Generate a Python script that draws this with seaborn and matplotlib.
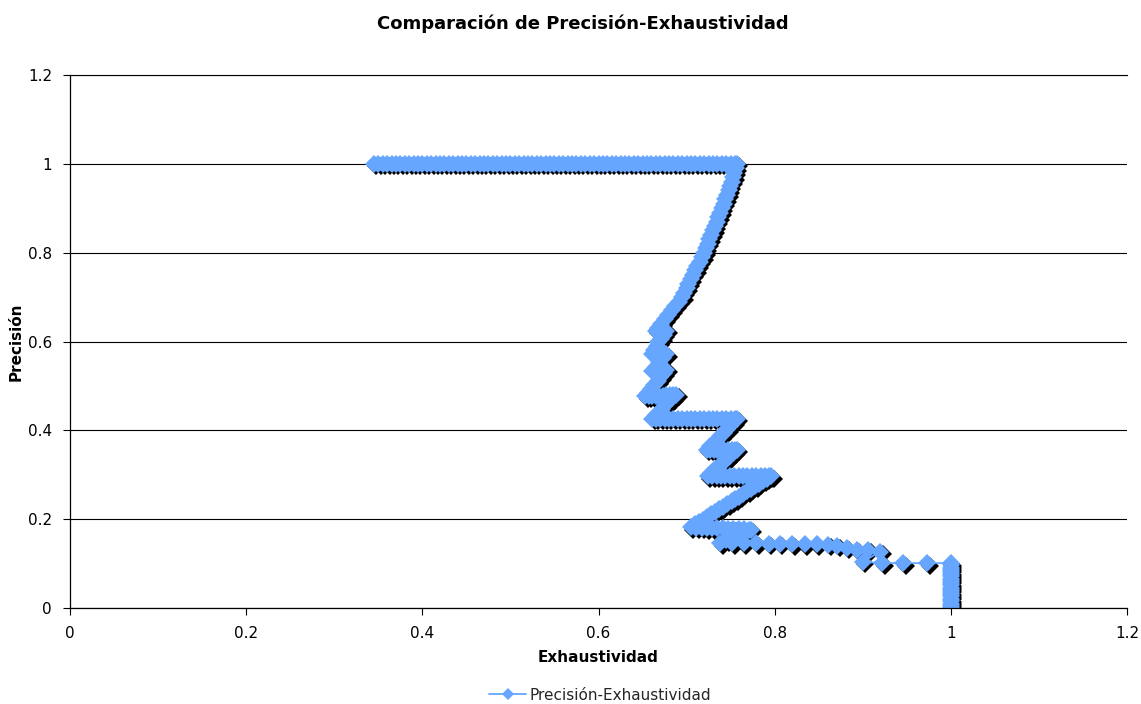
import matplotlib
matplotlib.use("Agg")
import matplotlib.pyplot as plt
import matplotlib.transforms as mtransforms
from matplotlib.lines import Line2D
import pandas as pd
import seaborn as sns

# Precision-recall points, in the order the curve was traced.
# Flat run at precision 1.0
recall_top = [0.345, 0.350, 0.355, 0.360, 0.365, 0.370, 0.375, 0.380, 0.385, 0.390,
              0.395, 0.400, 0.405, 0.410, 0.415, 0.420, 0.425, 0.430, 0.435, 0.440,
              0.445, 0.450, 0.455, 0.460, 0.465, 0.470, 0.475, 0.480, 0.485, 0.490,
              0.495, 0.500, 0.505, 0.510, 0.515, 0.520, 0.525, 0.530, 0.535, 0.540,
              0.545, 0.550, 0.555, 0.560, 0.565, 0.570, 0.575, 0.580, 0.585, 0.590,
              0.595, 0.600, 0.605, 0.610, 0.615, 0.620, 0.625, 0.630, 0.635, 0.640,
              0.645, 0.650, 0.655, 0.660, 0.665, 0.670, 0.675, 0.680, 0.685, 0.690,
              0.695, 0.700, 0.705, 0.710, 0.715, 0.720, 0.725, 0.730, 0.735, 0.740,
              0.745, 0.750, 0.755, 0.757]
precision_top = [1.0] * len(recall_top)

# Curved descent from precision 1.0 to about 0.62
recall_curve = [0.756, 0.754, 0.753, 0.751, 0.749, 0.748, 0.746, 0.744, 0.742, 0.740,
                0.738, 0.736, 0.734, 0.732, 0.730, 0.728, 0.726, 0.724, 0.722, 0.720,
                0.718, 0.715, 0.712, 0.710, 0.707, 0.705, 0.702, 0.700, 0.697, 0.695,
                0.691, 0.687, 0.683, 0.679, 0.675, 0.671, 0.667, 0.665]
precision_curve = [0.99, 0.98, 0.97, 0.96, 0.95, 0.94, 0.93, 0.92, 0.91, 0.90,
                   0.89, 0.88, 0.87, 0.86, 0.85, 0.84, 0.83, 0.82, 0.81, 0.80,
                   0.79, 0.78, 0.77, 0.76, 0.75, 0.74, 0.73, 0.72, 0.71, 0.70,
                   0.69, 0.68, 0.67, 0.66, 0.65, 0.64, 0.63, 0.624]

# Zigzag between 0.62 and 0.42
recall_zig = [0.669, 0.673, 0.677,
              0.674, 0.671, 0.668, 0.666, 0.663, 0.661,
              0.665, 0.669, 0.673, 0.677,
              0.673, 0.669, 0.665, 0.661,
              0.665, 0.669, 0.673, 0.677,
              0.674, 0.670, 0.667, 0.663, 0.660, 0.656, 0.653,
              0.657, 0.661, 0.665, 0.669, 0.673, 0.677, 0.681, 0.685, 0.688,
              0.684, 0.680, 0.676, 0.672, 0.669, 0.665, 0.661]
precision_zig = [0.624, 0.624, 0.624,
                 0.615, 0.606, 0.598, 0.589, 0.580, 0.572,
                 0.572, 0.572, 0.571, 0.571,
                 0.563, 0.553, 0.543, 0.534,
                 0.534, 0.535, 0.535, 0.536,
                 0.528, 0.519, 0.511, 0.502, 0.494, 0.485, 0.477,
                 0.477, 0.477, 0.478, 0.478, 0.478, 0.479, 0.479, 0.479, 0.480,
                 0.472, 0.465, 0.457, 0.449, 0.441, 0.434, 0.426]

# Steps between 0.42 and 0.30
recall_mid = [0.665, 0.670, 0.675, 0.680, 0.685, 0.690, 0.695, 0.700, 0.705, 0.710,
              0.715, 0.720, 0.725, 0.730, 0.735, 0.740, 0.745, 0.750, 0.755, 0.757,
              0.753, 0.749, 0.746, 0.742, 0.738, 0.734, 0.731, 0.727, 0.723,
              0.727, 0.731, 0.735, 0.739, 0.743, 0.747, 0.751, 0.755, 0.757,
              0.753, 0.749, 0.745, 0.741, 0.737, 0.732, 0.728, 0.724,
              0.729, 0.734, 0.739, 0.744, 0.749, 0.754, 0.759, 0.764, 0.769, 0.774,
              0.779, 0.784, 0.789, 0.794, 0.796]
precision_mid = [0.426, 0.426, 0.426, 0.426, 0.426, 0.426, 0.426, 0.426, 0.426, 0.426,
                 0.426, 0.426, 0.426, 0.426, 0.426, 0.426, 0.426, 0.426, 0.426, 0.426,
                 0.418, 0.410, 0.403, 0.395, 0.387, 0.379, 0.372, 0.364, 0.356,
                 0.356, 0.356, 0.356, 0.356, 0.356, 0.356, 0.356, 0.356, 0.356,
                 0.350, 0.342, 0.335, 0.327, 0.320, 0.312, 0.305, 0.297,
                 0.297, 0.297, 0.297, 0.297, 0.297, 0.297, 0.297, 0.297, 0.297, 0.297,
                 0.297, 0.297, 0.297, 0.297, 0.297]

# Long fall to 0.18 and the tail down to recall 1.0
recall_low = [0.791, 0.787, 0.782, 0.778, 0.773, 0.769, 0.764, 0.760, 0.755, 0.751,
              0.746, 0.741, 0.737, 0.732, 0.728, 0.723, 0.719, 0.714, 0.710, 0.705,
              0.711, 0.717, 0.723, 0.729, 0.735, 0.741, 0.747, 0.753, 0.759, 0.765,
              0.771, 0.773,
              0.766, 0.759, 0.752, 0.745, 0.738,
              0.752, 0.765, 0.779, 0.793, 0.806, 0.820, 0.834, 0.848, 0.861,
              0.871, 0.882, 0.893, 0.906, 0.920,
              0.900, 0.922, 0.946, 0.973, 1.0]
precision_low = [0.291, 0.286, 0.280, 0.274, 0.268, 0.263, 0.257, 0.251, 0.245, 0.240,
                 0.234, 0.228, 0.222, 0.217, 0.211, 0.205, 0.199, 0.194, 0.188, 0.182,
                 0.181, 0.181, 0.180, 0.180, 0.179, 0.179, 0.178, 0.178, 0.177, 0.177,
                 0.176, 0.176,
                 0.170, 0.164, 0.158, 0.152, 0.146,
                 0.146, 0.146, 0.146, 0.145, 0.145, 0.144, 0.144, 0.143, 0.142,
                 0.140, 0.136, 0.131, 0.131, 0.127,
                 0.104, 0.101, 0.101, 0.101, 0.101]

# Vertical drop at recall 1.0
recall_end = [1.0, 1.0, 1.0, 1.0, 1.0, 1.0, 1.0, 1.0, 1.0, 1.0,
              1.0, 1.0, 1.0, 1.0, 1.0, 1.0, 1.0, 1.0, 1.0, 1.0]
precision_end = [0.096, 0.091, 0.086, 0.081, 0.076, 0.071, 0.066, 0.061, 0.056, 0.051,
                 0.046, 0.041, 0.036, 0.031, 0.026, 0.020, 0.015, 0.010, 0.005, 0.0]

x_ticks = [0, 0.2, 0.4, 0.6, 0.8, 1, 1.2]
y_ticks = [0, 0.2, 0.4, 0.6, 0.8, 1, 1.2]
tick_labels = ["0", "0.2", "0.4", "0.6", "0.8", "1", "1.2"]

series_name = "Precisión-Exhaustividad"

recall = recall_top + recall_curve + recall_zig + recall_mid + recall_low + recall_end
precision = (precision_top + precision_curve + precision_zig + precision_mid
             + precision_low + precision_end)
df = pd.DataFrame({"Exhaustividad": recall, "Precisión": precision})

BLUE = "#66A6FF"
MS = 9.0

sns.set_theme(style="white")
plt.rcParams["font.family"] = ["DejaVu Sans"]

W, H = 1141, 704
fig = plt.figure(figsize=(W / 100, H / 100), dpi=100)
fig.patch.set_facecolor("white")
ax = fig.add_axes([70 / W, 1 - 608 / H, (1127 - 70) / W, (608 - 75) / H])

# Drop shadow under the markers
sns.lineplot(data=df, x="Exhaustividad", y="Precisión", sort=False, estimator=None,
             ax=ax, color="black", linestyle="None", marker="D", markersize=MS,
             markeredgewidth=0)
shadow = ax.lines[-1]
shadow.set_transform(ax.transData
                     + mtransforms.ScaledTranslation(2.5 / 100, -2.5 / 100,
                                                     fig.dpi_scale_trans))

# Main series
sns.lineplot(data=df, x="Exhaustividad", y="Precisión", sort=False, estimator=None,
             ax=ax, color=BLUE, linewidth=1.3, marker="D", markersize=MS,
             markeredgewidth=0)

ax.set_xlim(0, 1.2)
ax.set_ylim(0, 1.2)
ax.set_xticks(x_ticks)
ax.set_yticks(y_ticks)
ax.set_xticklabels(tick_labels)
ax.set_yticklabels(tick_labels)
ax.tick_params(axis="both", which="major", direction="out", length=5, width=0.8,
               color="black", labelsize=11, labelcolor="black",
               bottom=True, left=True)
ax.tick_params(axis="x", pad=8)
ax.tick_params(axis="y", pad=8)

ax.set_axisbelow(True)
ax.yaxis.grid(True, color="black", linewidth=0.8)
ax.xaxis.grid(False)
for side in ["left", "bottom"]:
    ax.spines[side].set_color("black")
    ax.spines[side].set_linewidth(0.9)
ax.spines["right"].set_visible(False)
ax.spines["top"].set_color("black")
ax.spines["top"].set_linewidth(0.8)

ax.set_xlabel("Exhaustividad", fontsize=11, fontweight="bold", color="black")
ax.set_ylabel("Precisión", fontsize=11, fontweight="bold", color="black")
ax.xaxis.label.set_verticalalignment("center")
ax.yaxis.label.set_verticalalignment("center")
ax.xaxis.set_label_coords((598 - 70) / 1057, (608 - 658) / 533)
ax.yaxis.set_label_coords((16 - 70) / 1057, 0.5)

fig.text(583 / W, 1 - 24 / H, "Comparación de Precisión-Exhaustividad",
         ha="center", va="center", fontsize=13, fontweight="bold", color="black")

handle = Line2D([], [], color=BLUE, linewidth=1.3, marker="D", markersize=6.5,
                markeredgewidth=0)
ax.legend(handles=[handle], labels=[series_name], loc="center",
          bbox_to_anchor=(600 / W, 1 - 695 / H), bbox_transform=fig.transFigure,
          frameon=False, fontsize=11, handlelength=2.4, handletextpad=0.2)

fig.savefig("out.png", dpi=100, facecolor="white")
